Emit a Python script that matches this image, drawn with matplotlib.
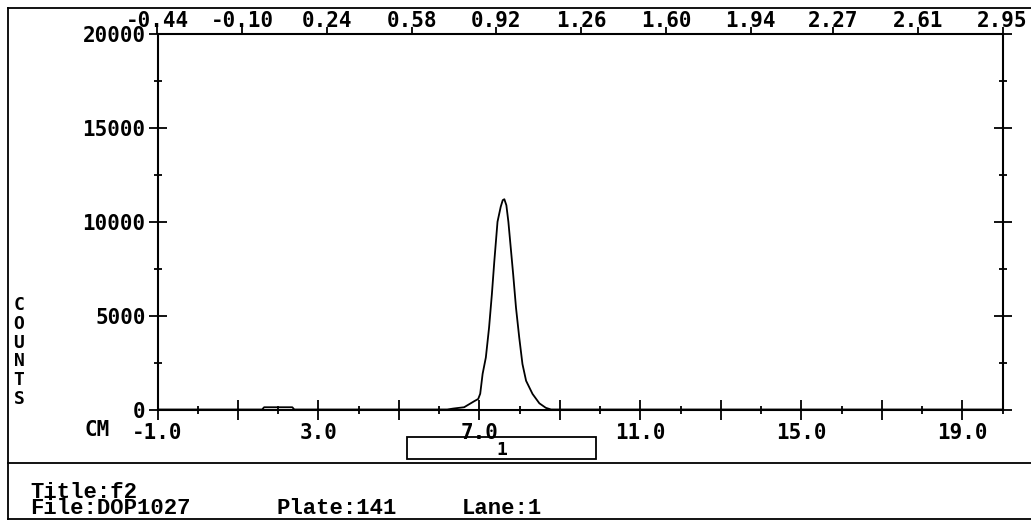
import numpy as np
import matplotlib
matplotlib.use('Agg')
import matplotlib.pyplot as plt
from matplotlib.lines import Line2D
from matplotlib.patches import Rectangle
import matplotlib.transforms as mtransforms

# scan data: distance (cm) vs counts
cm = [-1.0, 1.6, 1.65, 2.35, 2.4, 6.2, 6.35, 6.62, 6.87, 6.97, 7.02, 7.08,
      7.16, 7.24, 7.31, 7.37, 7.45, 7.53, 7.58, 7.62, 7.67, 7.72, 7.78, 7.84,
      7.91, 7.99, 8.07, 8.16, 8.32, 8.49, 8.65, 8.78, 20.0]
counts = [0, 0, 120, 120, 0, 0, 50, 120, 440, 560, 840, 1900,
          2770, 4360, 6140, 7880, 10000, 10800, 11150, 11200, 10880, 10000, 8590, 7180,
          5410, 3830, 2420, 1530, 830, 330, 90, 0, 0]

x_major = [-1, 1, 3, 5, 7, 9, 11, 13, 15, 17, 19]
x_minor = [0, 2, 4, 6, 8, 10, 12, 14, 16, 18, 20]
x_labeled = [-1, 3, 7, 11, 15, 19]
y_major = [0, 5000, 10000, 15000, 20000]
y_minor = [2500, 7500, 12500, 17500]
rf_ticks = [-0.44, -0.10, 0.24, 0.58, 0.92, 1.26, 1.60, 1.94, 2.27, 2.61, 2.95]

region = (5.2, 9.9)
region_name = '1'
title_txt = 'f2'
file_txt = 'DOP1027'
plate_txt = '141'
lane_txt = '1'

plt.rcParams['font.family'] = 'DejaVu Sans Mono'
plt.rcParams['font.weight'] = 'bold'

W, H = 1031, 520
fig = plt.figure(figsize=(W / 100, H / 100), dpi=100)
fig.patch.set_facecolor('white')


def fx(px):
    return px / W


def fy(py):
    return 1 - py / H


ax = fig.add_axes([fx(157.5), fy(409.5), fx(1002.5) - fx(157.5), fy(34) - fy(409.5)])
ax.plot(cm, counts, color='black', lw=1.3)
ax.set_xlim(-1, 20)
ax.set_ylim(0, 20000)
for s in ax.spines.values():
    s.set_linewidth(1.5)

ax.set_xticks(x_major)
ax.set_xticks(x_minor, minor=True)
ax.set_xticklabels(['%.1f' % v if v in x_labeled else '' for v in x_major])
ax.set_yticks(y_major)
ax.set_yticks(y_minor, minor=True)
ax.set_yticklabels(['%d' % v for v in y_major])

ax.tick_params(axis='x', which='major', direction='inout', length=14, width=1.3,
               labelsize=15, pad=3, top=False)
ax.tick_params(axis='x', which='minor', direction='inout', length=6, width=1.3, top=False)
ax.tick_params(axis='y', which='major', direction='inout', length=13, width=1.3,
               labelsize=15, pad=2, right=True)
ax.tick_params(axis='y', which='minor', direction='inout', length=6, width=1.3, right=True)

# Rf scale on top
ax2 = ax.twiny()
ax2.set_xlim(rf_ticks[0], rf_ticks[-1])
ax2.set_xticks(rf_ticks)
ax2.set_xticklabels(['%.2f' % v for v in rf_ticks])
ax2.tick_params(axis='x', direction='out', length=5, width=1.3, labelsize=15, pad=-2.5)
for s in ax2.spines.values():
    s.set_visible(False)

# lane region box under the axis
trans = mtransforms.blended_transform_factory(ax.transData, fig.transFigure)
ax.add_patch(Rectangle((region[0], fy(459)), region[1] - region[0], fy(437) - fy(459),
                       transform=trans, fill=False, edgecolor='black', lw=1.3, clip_on=False))
ax.text((region[0] + region[1]) / 2, fy(450), region_name, transform=trans,
        ha='center', va='center', fontsize=13)

fig.text(fx(97), fy(430), 'CM', ha='center', va='center', fontsize=15)
fig.text(fx(19), fy(352), 'C\nO\nU\nN\nT\nS', ha='center', va='center',
         fontsize=13, linespacing=1.05)

# frame and separator
fig.add_artist(Line2D([fx(8), fx(8)], [fy(8), fy(519)], color='black', lw=1.3))
fig.add_artist(Line2D([fx(8), 1], [fy(8), fy(8)], color='black', lw=1.3))
fig.add_artist(Line2D([fx(8), 1], [fy(463), fy(463)], color='black', lw=1.3))
fig.add_artist(Line2D([fx(8), 1], [fy(519), fy(519)], color='black', lw=1.3))

info = dict(family='Liberation Mono', fontweight='bold', fontsize=16, ha='left', va='baseline')
fig.text(fx(30), fy(514), 'Title:' + title_txt + '\nFile:' + file_txt,
         linespacing=0.68, **info)
fig.text(fx(277), fy(514), 'Plate:' + plate_txt, **info)
fig.text(fx(462), fy(514), 'Lane:' + lane_txt, **info)

fig.savefig('out.png', dpi=100)
